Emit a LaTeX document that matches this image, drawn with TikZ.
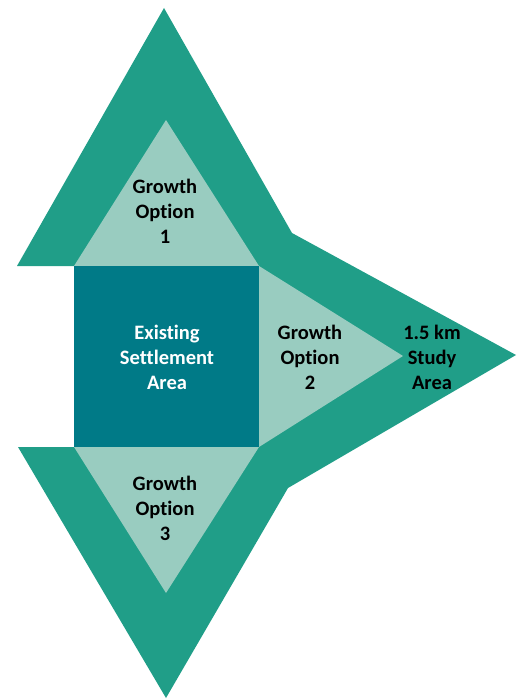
\documentclass[tikz,border=0pt]{standalone}
\usepackage{fontspec}
\setmainfont{Carlito}[Ligatures=NoCommon]
\definecolor{studygreen}{RGB}{32,158,136}
\definecolor{settleteal}{RGB}{0,122,135}
\definecolor{growthlight}{RGB}{153,204,192}
\begin{document}
\begin{tikzpicture}[x=1pt,y=-1pt,
  studystyle/.style={fill=studygreen},
  growthstyle/.style={fill=growthlight},
  settlestyle/.style={fill=settleteal},
  labelstyle/.style={align=center,font=\fontsize{20.5}{25}\selectfont\bfseries,inner sep=0pt}]
\useasboundingbox (0,0) rectangle (522,700);
\fill[studystyle] (164,8) -- (292,233) -- (516,355) -- (288,488) -- (166,698)
  -- (18,447) -- (74,447) -- (74,266) -- (17,266) -- cycle;
\fill[growthstyle] (74,266) -- (166,120) -- (259,266) -- cycle;
\fill[growthstyle] (259,266) -- (403,356) -- (259,447) -- cycle;
\fill[growthstyle] (74,447) -- (259,447) -- (166,593) -- cycle;
\fill[settlestyle] (74,266) rectangle (259,447);
\node[labelstyle,text=white](Settlement) at (167,357){Existing\\Settlement\\Area};
\node[labelstyle](Option1) at (165,211){Growth\\Option\\1};
\node[labelstyle](Option2) at (310,357){Growth\\Option\\2};
\node[labelstyle](Option3) at (165,508){Growth\\Option\\3};
\node[labelstyle](Study) at (432,357){1.5 km\\Study\\Area};
\end{tikzpicture}
\end{document}
